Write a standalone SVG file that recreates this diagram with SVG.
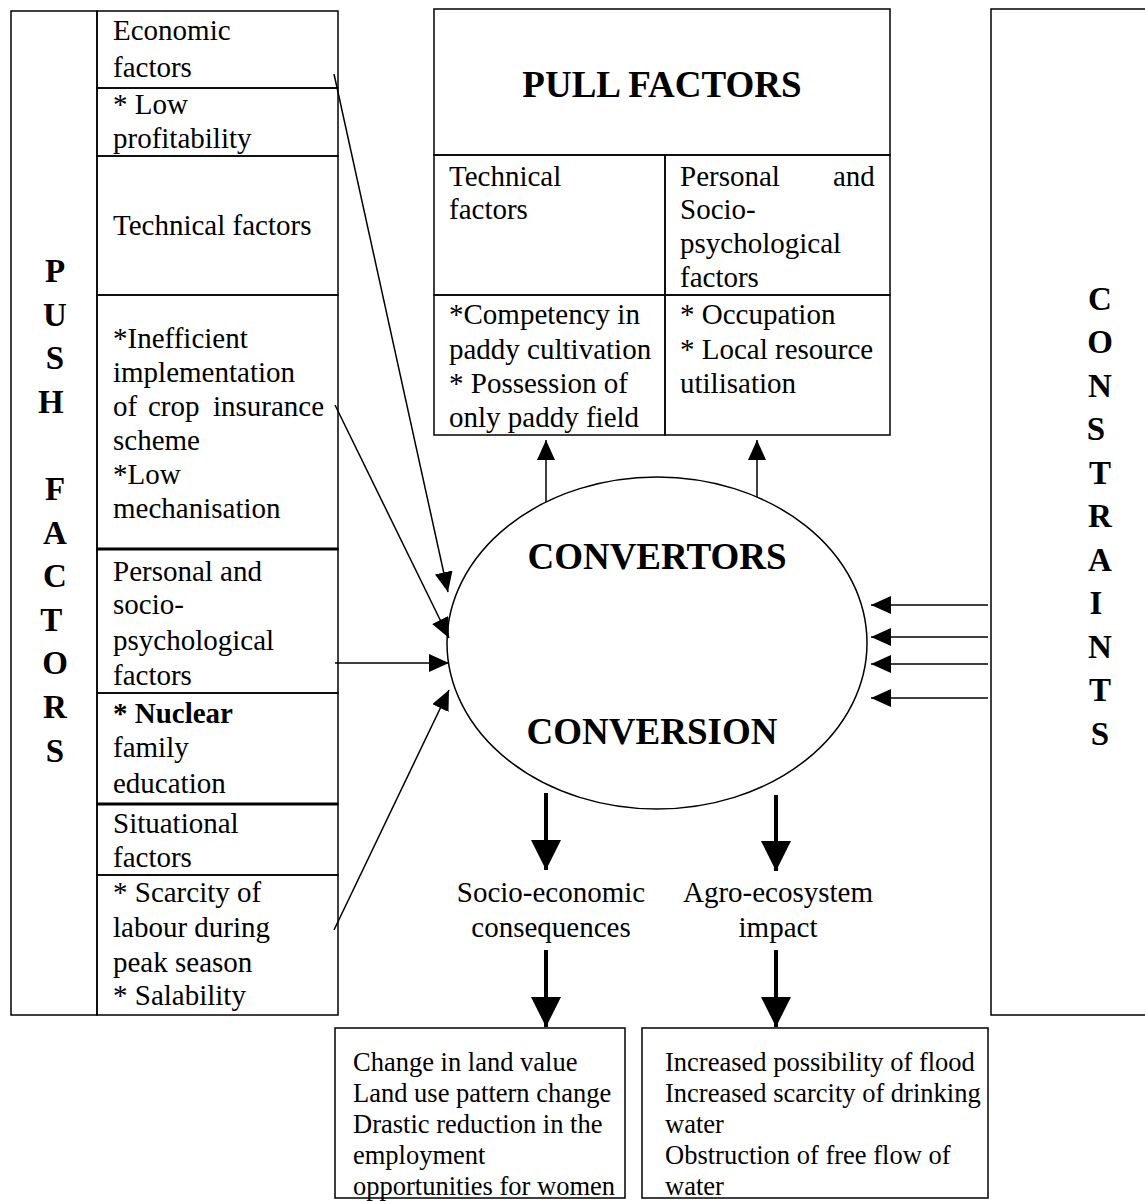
<svg xmlns="http://www.w3.org/2000/svg" width="1145" height="1201" viewBox="0 0 1145 1201">
<style>
  .box{fill:none;stroke:#000;stroke-width:1.5}
  .tk{stroke:#000;stroke-width:3}
  .t{font-family:"Liberation Serif","Times New Roman",serif;font-size:29px;fill:#000}
  .sm{font-size:26.5px}
  .b{font-family:"Liberation Serif","Times New Roman",serif;font-weight:bold;fill:#000}
  .ln{stroke:#000;stroke-width:1.5;fill:none}
  .thick{stroke:#000;stroke-width:4;fill:none}
</style>
<defs>
  <marker id="ah" markerUnits="userSpaceOnUse" markerWidth="22" markerHeight="18" refX="20" refY="9" orient="auto"><path d="M0,0 L20,9 L0,18 z" fill="#000"/></marker>
  <marker id="big" markerUnits="userSpaceOnUse" markerWidth="32" markerHeight="32" refX="30" refY="15" orient="auto"><path d="M0,0 L30,15 L0,30 z" fill="#000"/></marker>
</defs>
<rect width="1145" height="1201" fill="#fff"/>

<g id="push-factors">
  <rect class="box" x="11" y="11" width="86" height="1004"/>
  <text class="b" font-size="33" text-anchor="middle">
    <tspan x="55" y="282">P</tspan><tspan x="55" y="326">U</tspan><tspan x="55" y="369">S</tspan><tspan x="55" y="413">H</tspan>
    <tspan x="55" y="500">F</tspan><tspan x="55" y="544">A</tspan><tspan x="55" y="587">C</tspan><tspan x="55" y="631">T</tspan>
    <tspan x="55" y="674">O</tspan><tspan x="55" y="718">R</tspan><tspan x="55" y="762">S</tspan>
  </text>
</g>

<g id="push-economic">
  <rect class="box" x="97" y="11" width="241" height="77"/>
  <text class="t"><tspan x="113" y="40">Economic</tspan><tspan x="113" y="77">factors</tspan></text>
</g>
<g id="push-economic-items">
  <rect class="box" x="97" y="88" width="241" height="68"/>
  <text class="t"><tspan x="113" y="114">* Low</tspan><tspan x="113" y="148">profitability</tspan></text>
</g>
<g id="push-technical">
  <rect class="box" x="97" y="156" width="241" height="139"/>
  <text class="t" x="113" y="235">Technical factors</text>
</g>
<g id="push-technical-items">
  <rect class="box" x="97" y="295" width="241" height="254"/>
  <text class="t"><tspan x="113" y="348">*Inefficient</tspan><tspan x="113" y="382">implementation</tspan><tspan x="113" y="416">of</tspan><tspan x="148" y="416">crop</tspan><tspan x="213" y="416">insurance</tspan><tspan x="113" y="450">scheme</tspan><tspan x="113" y="484">*Low</tspan><tspan x="113" y="518">mechanisation</tspan></text>
</g>
<g id="push-personal">
  <rect class="box" x="97" y="549" width="241" height="144"/>
  <text class="t"><tspan x="113" y="581">Personal and</tspan><tspan x="113" y="614">socio-</tspan><tspan x="113" y="650">psychological</tspan><tspan x="113" y="685">factors</tspan></text>
</g>
<g id="push-personal-items">
  <rect class="box" x="97" y="693" width="241" height="111"/>
  <text class="t"><tspan x="113" y="723" font-weight="bold">* Nuclear</tspan><tspan x="113" y="757">family</tspan><tspan x="113" y="793">education</tspan></text>
</g>
<g id="push-situational">
  <rect class="box" x="97" y="804" width="241" height="71"/>
  <text class="t"><tspan x="113" y="833">Situational</tspan><tspan x="113" y="867">factors</tspan></text>
</g>
<g id="push-situational-items">
  <rect class="box" x="97" y="875" width="241" height="140"/>
  <text class="t"><tspan x="113" y="902">* Scarcity of</tspan><tspan x="113" y="937">labour during</tspan><tspan x="113" y="972">peak season</tspan><tspan x="113" y="1005">* Salability</tspan></text>
</g>
<line class="tk" x1="97" y1="549" x2="338" y2="549"/>
<line class="tk" x1="97" y1="804" x2="338" y2="804"/>

<g id="pull-factors">
  <rect class="box" x="434" y="9" width="456" height="146"/>
  <text class="b" font-size="37" x="662" y="97" text-anchor="middle">PULL FACTORS</text>
</g>
<g id="pull-technical">
  <rect class="box" x="434" y="155" width="231" height="140"/>
  <text class="t"><tspan x="449" y="186">Technical</tspan><tspan x="449" y="219">factors</tspan></text>
</g>
<g id="pull-personal">
  <rect class="box" x="665" y="155" width="225" height="140"/>
  <text class="t"><tspan x="680" y="186">Personal</tspan><tspan x="833" y="186">and</tspan><tspan x="680" y="219">Socio-</tspan><tspan x="680" y="253">psychological</tspan><tspan x="680" y="287">factors</tspan></text>
</g>
<g id="pull-technical-items">
  <rect class="box" x="434" y="295" width="231" height="140"/>
  <text class="t"><tspan x="449" y="324">*Competency in</tspan><tspan x="449" y="359">paddy cultivation</tspan><tspan x="449" y="393">* Possession of</tspan><tspan x="449" y="427">only paddy field</tspan></text>
</g>
<g id="pull-personal-items">
  <rect class="box" x="665" y="295" width="225" height="140"/>
  <text class="t"><tspan x="680" y="324">* Occupation</tspan><tspan x="680" y="359">* Local resource</tspan><tspan x="680" y="393">utilisation</tspan></text>
</g>

<g id="constraints">
  <rect class="box" x="991" y="9" width="200" height="1006"/>
  <text class="b" font-size="33" text-anchor="middle">
    <tspan x="1100" y="310">C</tspan><tspan x="1100" y="353">O</tspan><tspan x="1100" y="397">N</tspan><tspan x="1100" y="440">S</tspan>
    <tspan x="1100" y="484">T</tspan><tspan x="1100" y="527">R</tspan><tspan x="1100" y="571">A</tspan><tspan x="1100" y="614">I</tspan>
    <tspan x="1100" y="658">N</tspan><tspan x="1100" y="701">T</tspan><tspan x="1100" y="745">S</tspan>
  </text>
</g>

<g id="convertors">
  <ellipse class="box" cx="657" cy="643" rx="210" ry="166"/>
  <text class="b" font-size="37" x="657" y="569" text-anchor="middle">CONVERTORS</text>
  <text class="b" font-size="37" x="652" y="744" text-anchor="middle">CONVERSION</text>
</g>

<g id="socio-economic">
  <text class="t" text-anchor="middle"><tspan x="551" y="902">Socio-economic</tspan><tspan x="551" y="937">consequences</tspan></text>
</g>
<g id="agro-ecosystem">
  <text class="t" text-anchor="middle"><tspan x="778" y="902">Agro-ecosystem</tspan><tspan x="778" y="937">impact</tspan></text>
</g>

<g id="socio-economic-effects">
  <rect class="box" x="335" y="1028" width="290" height="170"/>
  <text class="t sm"><tspan x="353" y="1071">Change in land value</tspan><tspan x="353" y="1102">Land use pattern change</tspan><tspan x="353" y="1133">Drastic reduction in the</tspan><tspan x="353" y="1164">employment</tspan><tspan x="353" y="1195">opportunities for women</tspan></text>
</g>
<g id="agro-ecosystem-effects">
  <rect class="box" x="642" y="1028" width="346" height="170"/>
  <text class="t sm"><tspan x="665" y="1071">Increased possibility of flood</tspan><tspan x="665" y="1102">Increased scarcity of drinking</tspan><tspan x="665" y="1133">water</tspan><tspan x="665" y="1164">Obstruction of free flow of</tspan><tspan x="665" y="1195">water</tspan></text>
</g>

<g id="connectors">
  <line class="ln" x1="334" y1="74" x2="448" y2="592" marker-end="url(#ah)"/>
  <line class="ln" x1="335" y1="405" x2="449" y2="638" marker-end="url(#ah)"/>
  <line class="ln" x1="335" y1="663" x2="449" y2="663" marker-end="url(#ah)"/>
  <line class="ln" x1="334" y1="930" x2="449" y2="690" marker-end="url(#ah)"/>
  <line class="ln" x1="546" y1="502" x2="546" y2="440" marker-end="url(#ah)"/>
  <line class="ln" x1="757" y1="497" x2="757" y2="440" marker-end="url(#ah)"/>
  <line class="ln" x1="988" y1="605" x2="871" y2="605" marker-end="url(#ah)"/>
  <line class="ln" x1="988" y1="637" x2="871" y2="637" marker-end="url(#ah)"/>
  <line class="ln" x1="988" y1="664" x2="871" y2="664" marker-end="url(#ah)"/>
  <line class="ln" x1="988" y1="698" x2="871" y2="698" marker-end="url(#ah)"/>
  <line class="thick" x1="546" y1="793" x2="546" y2="870" marker-end="url(#big)"/>
  <line class="thick" x1="776" y1="795" x2="776" y2="871" marker-end="url(#big)"/>
  <line class="thick" x1="546" y1="950" x2="546" y2="1027" marker-end="url(#big)"/>
  <line class="thick" x1="776" y1="950" x2="776" y2="1027" marker-end="url(#big)"/>
</g>
</svg>
